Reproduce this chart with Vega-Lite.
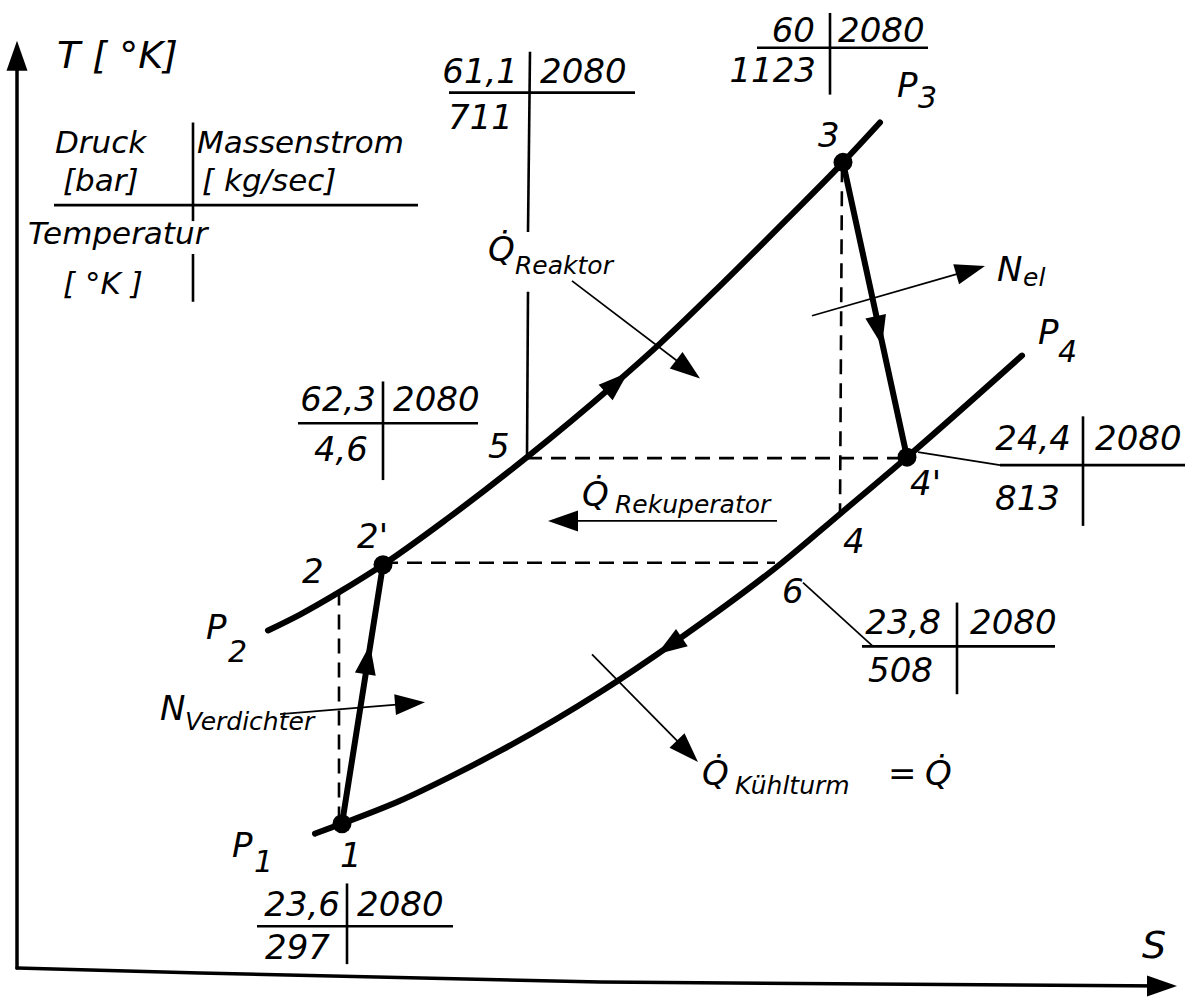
{
  "$schema": "https://vega.github.io/schema/vega-lite/v6.json",
  "width": 1193,
  "height": 997,
  "padding": 0,
  "autosize": {"type": "fit", "contains": "padding"},
  "background": "white",
  "config": {"view": {"stroke": null}},
  "datasets": {
    "curves": [
      {"id": "P2-P3", "k": 1, "x": 268, "y": 633},
      {"id": "P2-P3", "k": 2, "x": 300, "y": 617},
      {"id": "P2-P3", "k": 3, "x": 340, "y": 594},
      {"id": "P2-P3", "k": 4, "x": 383, "y": 567},
      {"id": "P2-P3", "k": 5, "x": 447, "y": 521},
      {"id": "P2-P3", "k": 6, "x": 527, "y": 459},
      {"id": "P2-P3", "k": 7, "x": 613, "y": 387},
      {"id": "P2-P3", "k": 8, "x": 660, "y": 345},
      {"id": "P2-P3", "k": 9, "x": 720, "y": 287},
      {"id": "P2-P3", "k": 10, "x": 787, "y": 220},
      {"id": "P2-P3", "k": 11, "x": 843, "y": 163},
      {"id": "P2-P3", "k": 12, "x": 880, "y": 123},
      {"id": "P1-P4", "k": 1, "x": 315, "y": 837},
      {"id": "P1-P4", "k": 2, "x": 342, "y": 827},
      {"id": "P1-P4", "k": 3, "x": 400, "y": 804},
      {"id": "P1-P4", "k": 4, "x": 450, "y": 780},
      {"id": "P1-P4", "k": 5, "x": 500, "y": 754},
      {"id": "P1-P4", "k": 6, "x": 600, "y": 695},
      {"id": "P1-P4", "k": 7, "x": 677, "y": 643},
      {"id": "P1-P4", "k": 8, "x": 782, "y": 565},
      {"id": "P1-P4", "k": 9, "x": 840, "y": 516},
      {"id": "P1-P4", "k": 10, "x": 907, "y": 459},
      {"id": "P1-P4", "k": 11, "x": 1022, "y": 357},
      {"id": "Verdichter", "k": 1, "x": 342, "y": 827},
      {"id": "Verdichter", "k": 2, "x": 383, "y": 567},
      {"id": "Turbine", "k": 1, "x": 843, "y": 163},
      {"id": "Turbine", "k": 2, "x": 907, "y": 459}
    ],
    "axes": [
      {"id": "T", "k": 1, "x": 17, "y": 972},
      {"id": "T", "k": 2, "x": 17, "y": 60},
      {"id": "S", "k": 1, "x": 17, "y": 972},
      {"id": "S", "k": 2, "x": 200, "y": 977},
      {"id": "S", "k": 3, "x": 600, "y": 986},
      {"id": "S", "k": 4, "x": 1165, "y": 990}
    ],
    "dashed": [
      {"id": "5-4'", "k": 1, "x": 527, "y": 460},
      {"id": "5-4'", "k": 2, "x": 907, "y": 460},
      {"id": "2'-6", "k": 1, "x": 383, "y": 565},
      {"id": "2'-6", "k": 2, "x": 775, "y": 565},
      {"id": "3-4", "k": 1, "x": 842, "y": 168},
      {"id": "3-4", "k": 2, "x": 840, "y": 517},
      {"id": "2-1", "k": 1, "x": 339, "y": 593},
      {"id": "2-1", "k": 2, "x": 339, "y": 825}
    ],
    "thin": [
      {"id": "Q Reaktor", "k": 1, "x": 572, "y": 282},
      {"id": "Q Reaktor", "k": 2, "x": 695, "y": 376},
      {"id": "N el", "k": 1, "x": 812, "y": 317},
      {"id": "N el", "k": 2, "x": 975, "y": 270},
      {"id": "Q Rekuperator", "k": 1, "x": 777, "y": 523},
      {"id": "Q Rekuperator", "k": 2, "x": 560, "y": 523},
      {"id": "N Verdichter", "k": 1, "x": 280, "y": 717},
      {"id": "N Verdichter", "k": 2, "x": 415, "y": 706},
      {"id": "Q Kuehlturm", "k": 1, "x": 592, "y": 657},
      {"id": "Q Kuehlturm", "k": 2, "x": 690, "y": 757},
      {"id": "leader 4'", "k": 1, "x": 918, "y": 454},
      {"id": "leader 4'", "k": 2, "x": 1000, "y": 467},
      {"id": "leader 6", "k": 1, "x": 803, "y": 585},
      {"id": "leader 6", "k": 2, "x": 873, "y": 649}
    ],
    "rules": [
      {"id": "t5h", "k": 1, "x": 449, "y": 93}, {"id": "t5h", "k": 2, "x": 635, "y": 93},
      {"id": "t5v1", "k": 1, "x": 530, "y": 52}, {"id": "t5v1", "k": 2, "x": 528, "y": 233},
      {"id": "t5v2", "k": 1, "x": 528, "y": 293}, {"id": "t5v2", "k": 2, "x": 527, "y": 459},
      {"id": "t3h", "k": 1, "x": 757, "y": 48}, {"id": "t3h", "k": 2, "x": 928, "y": 48},
      {"id": "t3v", "k": 1, "x": 830, "y": 13}, {"id": "t3v", "k": 2, "x": 830, "y": 95},
      {"id": "t2h", "k": 1, "x": 298, "y": 425}, {"id": "t2h", "k": 2, "x": 478, "y": 425},
      {"id": "t2v", "k": 1, "x": 383, "y": 383}, {"id": "t2v", "k": 2, "x": 383, "y": 482},
      {"id": "t4h", "k": 1, "x": 1000, "y": 467}, {"id": "t4h", "k": 2, "x": 1185, "y": 467},
      {"id": "t4v", "k": 1, "x": 1083, "y": 418}, {"id": "t4v", "k": 2, "x": 1083, "y": 528},
      {"id": "t6h", "k": 1, "x": 862, "y": 649}, {"id": "t6h", "k": 2, "x": 1055, "y": 649},
      {"id": "t6v", "k": 1, "x": 957, "y": 605}, {"id": "t6v", "k": 2, "x": 957, "y": 697},
      {"id": "t1h", "k": 1, "x": 257, "y": 930}, {"id": "t1h", "k": 2, "x": 453, "y": 930},
      {"id": "t1v", "k": 1, "x": 347, "y": 887}, {"id": "t1v", "k": 2, "x": 347, "y": 968},
      {"id": "key h", "k": 1, "x": 54, "y": 206}, {"id": "key h", "k": 2, "x": 418, "y": 206},
      {"id": "key v1", "k": 1, "x": 193, "y": 123}, {"id": "key v1", "k": 2, "x": 193, "y": 222},
      {"id": "key v2", "k": 1, "x": 193, "y": 255}, {"id": "key v2", "k": 2, "x": 193, "y": 303}
    ],
    "arrowheads": [
      {"name": "T axis", "x": 17, "y": 41, "heading": 0},
      {"name": "S axis", "x": 1177, "y": 990, "heading": 90},
      {"name": "N el", "x": 985, "y": 267, "heading": 73.9},
      {"name": "Turbine", "x": 882, "y": 347, "heading": 167.8},
      {"name": "Verdichter", "x": 370, "y": 647, "heading": 9},
      {"name": "P2-P3", "x": 628, "y": 374, "heading": 48.2},
      {"name": "Q Reaktor", "x": 700, "y": 380, "heading": 127.4},
      {"name": "Q Rekuperator", "x": 548, "y": 523, "heading": 270},
      {"name": "N Verdichter", "x": 425, "y": 705, "heading": 85.3},
      {"name": "P1-P4", "x": 657, "y": 657, "heading": 236},
      {"name": "Q Kuehlturm", "x": 698, "y": 765, "heading": 135.6}
    ],
    "states": [
      {"state": "1", "x": 342, "y": 827},
      {"state": "2'", "x": 383, "y": 567},
      {"state": "3", "x": 843, "y": 163},
      {"state": "4'", "x": 907, "y": 459}
    ],
    "labels": [
      {"role": "main", "text": "1", "x": 340, "y": 870},
      {"role": "main", "text": "2", "x": 302, "y": 585},
      {"role": "main", "text": "2'", "x": 357, "y": 550},
      {"role": "main", "text": "3", "x": 818, "y": 148},
      {"role": "main", "text": "4", "x": 843, "y": 555},
      {"role": "main", "text": "4'", "x": 910, "y": 497},
      {"role": "main", "text": "5", "x": 488, "y": 460},
      {"role": "main", "text": "6", "x": 782, "y": 605},
      {"role": "main", "text": "P", "x": 232, "y": 860},
      {"role": "main", "text": "P", "x": 206, "y": 642},
      {"role": "main", "text": "P", "x": 897, "y": 97},
      {"role": "main", "text": "P", "x": 1038, "y": 345},
      {"role": "main", "text": "Q̇", "x": 488, "y": 262},
      {"role": "main", "text": "N", "x": 997, "y": 282},
      {"role": "main", "text": "Q̇", "x": 582, "y": 508},
      {"role": "main", "text": "N", "x": 160, "y": 723},
      {"role": "main", "text": "Q̇", "x": 702, "y": 788},
      {"role": "main", "text": "=", "x": 888, "y": 788},
      {"role": "main", "text": "Q̇", "x": 925, "y": 788},
      {"role": "main", "text": "2080", "x": 540, "y": 83},
      {"role": "main", "text": "2080", "x": 838, "y": 42},
      {"role": "main", "text": "2080", "x": 393, "y": 413},
      {"role": "main", "text": "2080", "x": 1095, "y": 452},
      {"role": "main", "text": "2080", "x": 970, "y": 637},
      {"role": "main", "text": "2080", "x": 357, "y": 920},
      {"role": "value", "text": "61,1", "x": 518, "y": 83},
      {"role": "value", "text": "711", "x": 513, "y": 130},
      {"role": "value", "text": "60", "x": 815, "y": 42},
      {"role": "value", "text": "1123", "x": 816, "y": 82},
      {"role": "value", "text": "62,3", "x": 376, "y": 413},
      {"role": "value", "text": "4,6", "x": 368, "y": 463},
      {"role": "value", "text": "24,4", "x": 1071, "y": 452},
      {"role": "value", "text": "813", "x": 1060, "y": 512},
      {"role": "value", "text": "23,8", "x": 941, "y": 637},
      {"role": "value", "text": "508", "x": 933, "y": 685},
      {"role": "value", "text": "23,6", "x": 340, "y": 920},
      {"role": "value", "text": "297", "x": 330, "y": 963},
      {"role": "sub", "text": "Reaktor", "x": 515, "y": 275},
      {"role": "sub", "text": "el", "x": 1023, "y": 287},
      {"role": "sub", "text": "Rekuperator", "x": 615, "y": 515},
      {"role": "sub", "text": "Verdichter", "x": 185, "y": 733},
      {"role": "sub", "text": "Kühlturm", "x": 735, "y": 797},
      {"role": "index", "text": "1", "x": 254, "y": 876},
      {"role": "index", "text": "2", "x": 228, "y": 665},
      {"role": "index", "text": "3", "x": 918, "y": 108},
      {"role": "index", "text": "4", "x": 1058, "y": 363},
      {"role": "key", "text": "Druck", "x": 55, "y": 154},
      {"role": "key", "text": "[bar]", "x": 63, "y": 192},
      {"role": "key", "text": "Massenstrom", "x": 197, "y": 154},
      {"role": "key", "text": "[ kg/sec]", "x": 202, "y": 192},
      {"role": "key", "text": "Temperatur", "x": 28, "y": 245},
      {"role": "key", "text": "[ °K ]", "x": 63, "y": 295},
      {"role": "axis", "text": "T [ °K]", "x": 57, "y": 68},
      {"role": "axis", "text": "S", "x": 1142, "y": 962}
    ]
  },
  "encoding": {
    "x": {"field": "x", "type": "quantitative", "axis": null, "scale": {"domain": [0, 1193], "nice": false, "zero": false}},
    "y": {"field": "y", "type": "quantitative", "axis": null, "scale": {"domain": [0, 997], "nice": false, "zero": false, "reverse": true}}
  },
  "layer": [
    {
      "data": {"name": "axes"},
      "mark": {"type": "line", "color": "black", "strokeWidth": 3.5, "strokeCap": "round", "strokeJoin": "round"},
      "encoding": {"detail": {"field": "id"}, "order": {"field": "k"}}
    },
    {
      "data": {"name": "rules"},
      "mark": {"type": "line", "color": "black", "strokeWidth": 2.6, "strokeCap": "butt"},
      "encoding": {"detail": {"field": "id"}, "order": {"field": "k"}}
    },
    {
      "data": {"name": "dashed"},
      "mark": {"type": "line", "color": "black", "strokeWidth": 2.6, "strokeDash": [15, 9]},
      "encoding": {"detail": {"field": "id"}, "order": {"field": "k"}}
    },
    {
      "data": {"name": "thin"},
      "mark": {"type": "line", "color": "black", "strokeWidth": 1.7},
      "encoding": {"detail": {"field": "id"}, "order": {"field": "k"}}
    },
    {
      "data": {"name": "curves"},
      "mark": {"type": "line", "color": "black", "strokeWidth": 6, "strokeCap": "round", "interpolate": "monotone"},
      "encoding": {"detail": {"field": "id"}, "order": {"field": "k"}}
    },
    {
      "data": {"name": "arrowheads"},
      "mark": {"type": "point", "shape": "M0,0L0.7,2L-0.7,2Z", "filled": true, "color": "black", "opacity": 1, "size": 900, "strokeWidth": 0},
      "encoding": {"angle": {"field": "heading", "type": "quantitative", "scale": null}}
    },
    {
      "data": {"name": "states"},
      "mark": {"type": "circle", "color": "black", "opacity": 1, "size": 360}
    },
    {
      "data": {"name": "labels"},
      "transform": [{"filter": "datum.role === 'main'"}],
      "mark": {"type": "text", "align": "left", "baseline": "alphabetic", "font": "DejaVu Sans", "fontStyle": "italic", "fontSize": 34, "color": "black"},
      "encoding": {"text": {"field": "text"}}
    },
    {
      "data": {"name": "labels"},
      "transform": [{"filter": "datum.role === 'value'"}],
      "mark": {"type": "text", "align": "right", "baseline": "alphabetic", "font": "DejaVu Sans", "fontStyle": "italic", "fontSize": 34, "color": "black"},
      "encoding": {"text": {"field": "text"}}
    },
    {
      "data": {"name": "labels"},
      "transform": [{"filter": "datum.role === 'sub'"}],
      "mark": {"type": "text", "align": "left", "baseline": "alphabetic", "font": "DejaVu Sans", "fontStyle": "italic", "fontSize": 25, "color": "black"},
      "encoding": {"text": {"field": "text"}}
    },
    {
      "data": {"name": "labels"},
      "transform": [{"filter": "datum.role === 'index'"}],
      "mark": {"type": "text", "align": "left", "baseline": "alphabetic", "font": "DejaVu Sans", "fontStyle": "italic", "fontSize": 30, "color": "black"},
      "encoding": {"text": {"field": "text"}}
    },
    {
      "data": {"name": "labels"},
      "transform": [{"filter": "datum.role === 'key'"}],
      "mark": {"type": "text", "align": "left", "baseline": "alphabetic", "font": "DejaVu Sans", "fontStyle": "italic", "fontSize": 31, "color": "black"},
      "encoding": {"text": {"field": "text"}}
    },
    {
      "data": {"name": "labels"},
      "transform": [{"filter": "datum.role === 'axis'"}],
      "mark": {"type": "text", "align": "left", "baseline": "alphabetic", "font": "DejaVu Sans", "fontStyle": "italic", "fontSize": 38, "color": "black"},
      "encoding": {"text": {"field": "text"}}
    }
  ]
}
